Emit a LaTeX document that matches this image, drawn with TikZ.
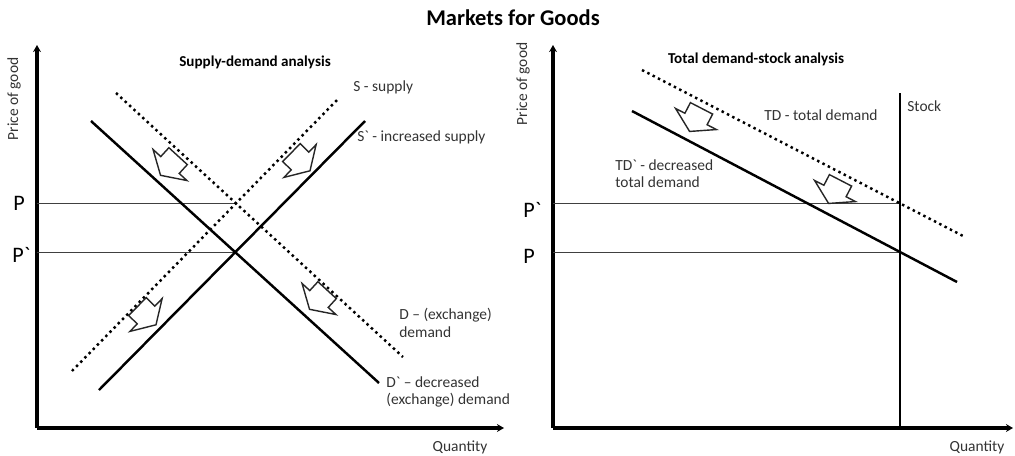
\documentclass[tikz,border=0pt]{standalone}
\usepackage{fontspec}
\setmainfont{Carlito}[Ligatures=TeXOff]
\usetikzlibrary{arrows.meta}
\tikzset{
	axis/.style={line width=1.9pt,-{Stealth[length=4pt,width=4.5pt]}},
	curve/.style={line width=1.4pt},
	shifted/.style={line width=1.4pt,dash pattern=on 1.4pt off 2pt},
	price/.style={line width=0.5pt,black!75},
	lbl/.style={font=\fontsize{8.8}{9.8}\selectfont,text=black!80,inner sep=0pt,align=left},
	subtitle/.style={font=\bfseries\fontsize{8.6}{10}\selectfont,inner sep=0pt},
	pricelbl/.style={font=\fontsize{12.6}{14}\selectfont,inner sep=0pt,anchor=base west},
	shiftarrow/.pic={
		\draw[line width=0.8pt,black!85,fill=white,line join=miter]
			(-12.5,-12) -- (12.5,-12) -- (12.5,0) -- (23,0) -- (0,14) -- (-23,0) -- (-12.5,0) -- cycle;
	}
}
\begin{document}
\begin{tikzpicture}[x=0.2mm,y=-0.2mm]
		\useasboundingbox (0,0) rectangle (1015,455);
		\node[font=\bfseries\fontsize{12.8}{15}\selectfont,inner sep=0pt] (title) at (513,18) {Markets for Goods};

		% supply-demand analysis
		\coordinate (O1) at (37,428);
		\draw[axis] (O1) -- (37,45);
		\draw[axis] (O1) -- (504,428);
		\node[lbl,rotate=90] (priceA) at (14,99) {Price of good};
		\node[lbl] (qtyA) at (460,447) {Quantity};
		\node[subtitle] (titleA) at (255,62) {Supply-demand analysis};
		\coordinate (Sa) at (72,371);  \coordinate (Sb) at (338,99);
		\coordinate (S2a) at (99,390); \coordinate (S2b) at (365,121);
		\coordinate (Da) at (116,93);  \coordinate (Db) at (403,357);
		\coordinate (D2a) at (91,121); \coordinate (D2b) at (379,383);
		\coordinate (E1) at (intersection of Sa--Sb and Da--Db);
		\coordinate (E2) at (intersection of S2a--S2b and D2a--D2b);
		\draw[price] (E1) -- (E1 -| O1);
		\draw[price] (E2) -- (E2 -| O1);
		\draw[shifted] (Sa) -- (Sb);
		\draw[shifted] (Da) -- (Db);
		\draw[curve] (S2a) -- (S2b);
		\draw[curve] (D2a) -- (D2b);
		\node[pricelbl] (pA) at (13,210) {P};
		\node[pricelbl] (p2A) at (12,262) {P`};
		\node[lbl,anchor=west] (sLbl) at (353,87) {S - supply};
		\node[lbl,anchor=west] (s2Lbl) at (357,137) {S` - increased supply};
		\node[lbl,anchor=west] (dLbl) at (399,323) {D – (exchange)\\demand};
		\node[lbl,anchor=west] (d2Lbl) at (386,392) {D` – decreased\\(exchange) demand};
		\pic[rotate=-42.5] at (170,165) {shiftarrow};
		\pic[rotate=-42.5] at (319,299) {shiftarrow};
		\pic[rotate=45.5] at (300,161) {shiftarrow};
		\pic[rotate=45.5] at (146,315) {shiftarrow};

		% total demand-stock analysis
		\coordinate (O2) at (553,428);
		\draw[axis] (O2) -- (553,45);
		\draw[axis] (O2) -- (1013,428);
		\node[lbl,rotate=90] (priceB) at (523,84) {Price of good};
		\node[lbl] (qtyB) at (977,447) {Quantity};
		\node[subtitle] (titleB) at (756,59) {Total demand-stock analysis};
		\coordinate (Ta) at (642,70);   \coordinate (Tb) at (965,237);
		\coordinate (T2a) at (632,111); \coordinate (T2b) at (957,282);
		\coordinate (Ka) at (900,93);   \coordinate (Kb) at (900,428);
		\coordinate (F1) at (intersection of Ta--Tb and Ka--Kb);
		\coordinate (F2) at (intersection of T2a--T2b and Ka--Kb);
		\draw[price] (F1) -- (F1 -| O2);
		\draw[price] (F2) -- (F2 -| O2);
		\draw[curve] (Ka) -- (Kb);
		\draw[shifted] (Ta) -- (Tb);
		\draw[curve] (T2a) -- (T2b);
		\node[pricelbl] (p2B) at (523,217) {P`};
		\node[pricelbl] (pB) at (523,263) {P};
		\node[lbl,anchor=west] (kLbl) at (907,106) {Stock};
		\node[lbl,anchor=west] (tLbl) at (764,115) {TD - total demand};
		\node[lbl,anchor=west] (t2Lbl) at (615,174) {TD` - decreased\\total demand};
		\pic[rotate=-27.3] at (696,119) {shiftarrow};
		\pic[rotate=-27.3] at (835,191) {shiftarrow};
	\end{tikzpicture}
\end{document}
